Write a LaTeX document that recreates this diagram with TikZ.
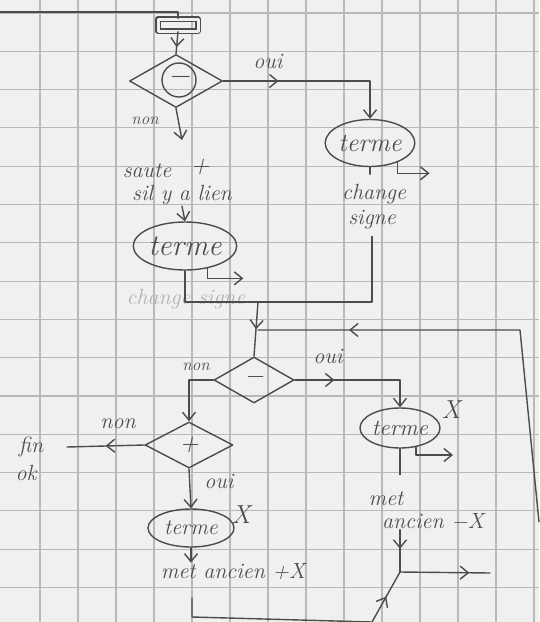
\documentclass[tikz,border=0pt]{standalone}
\usepackage{fontspec}
\usetikzlibrary{shapes.geometric,arrows.meta,decorations.markings}
\definecolor{papier}{gray}{0.94}
\definecolor{quadrillage}{gray}{0.72}
\definecolor{crayon}{gray}{0.30}
\definecolor{gomme}{gray}{0.70}

\begin{document}
\begin{tikzpicture}[x=1pt,y=-1pt,
  pen/.style={draw=crayon,line width=1.4pt,line cap=round,line join=round},
  fl/.style={-{Straight Barb[length=8pt,width=13pt]}},
  milieu/.style={postaction={decorate},decoration={markings,mark=at position #1 with {\arrow{Straight Barb[length=8pt,width=13pt]}}}},
  taille/.style={font=\fontsize{#1}{#1}\selectfont\itshape},
  ecrit/.style={text=crayon,inner sep=1pt,taille=22},
  rond/.style n args={2}{pen,ellipse,inner sep=0pt,text=crayon,minimum width=#1,minimum height=#2},
  losange/.style n args={2}{pen,diamond,inner sep=0pt,text=crayon,minimum width=#1,minimum height=#2}]
\fill[papier] (0,0) rectangle (539,622);
\useasboundingbox (0,0) rectangle (539,622);
% quadrillage
\foreach \k in {0,...,15}
  \draw[quadrillage,line width=1.1pt] (0,{13+38.3*\k}) -- (539,{13+38.3*\k});
\foreach \k in {1,...,14}
  \draw[quadrillage,line width=1.1pt] ({2+38*\k},0) -- ({2+38*\k},622);

% haut
\node[pen,double=papier,double distance=3pt,minimum width=40pt,minimum height=12pt,inner sep=0pt] (depart) at (178,25) {};
\node[losange={93pt}{53pt}] (test1) at (176,81) {};
\node[pen,circle,minimum size=34pt,inner sep=0pt,text=crayon,taille=30] (moins1) at (179,80) {−};
\node[ecrit] (oui1) at (268,61) {oui};
\node[ecrit,taille=17] (non1) at (145,121) {non};
\node[ecrit] (saute) at (147,171) {saute};
\node[ecrit,taille=26] (plus1) at (200,167) {+};
\node[ecrit] (lien) at (182,195) {sil y a lien};
\node[rond={96pt}{48pt},taille=30] (terme1) at (185,246) {terme};
\node[ecrit,text=gomme] (efface) at (186,299) {change signe};
\node[rond={80pt}{47pt},taille=26] (terme2) at (370,143) {terme};
\node[ecrit] (change) at (374,194) {change};
\node[ecrit] (signe) at (372,220) {signe};

% milieu
\node[losange={80pt}{46pt},taille=26] (test2) at (254,380) {−};
\node[ecrit,taille=17] (non2) at (196,367) {non};
\node[ecrit] (oui2) at (328,356) {oui};
\node[losange={88pt}{46pt},taille=26] (test3) at (189,445) {+};
\node[ecrit] (non3) at (118,424) {non};
\node[ecrit] (motfin) at (31,447) {fin};
\node[ecrit] (ok) at (26,473) {ok};
\node[ecrit] (oui3) at (219,481) {oui};
\node[rond={80pt}{40pt},taille=23] (terme3) at (400,428) {terme};
\node[ecrit,taille=26] (x3) at (451,410) {X};

% bas
\node[rond={86pt}{38pt},taille=22] (terme4) at (191,528) {terme};
\node[ecrit,taille=26] (x4) at (241,515) {X};
\node[ecrit] (metg) at (233,572) {met ancien +X};
\node[ecrit] (met) at (386,499) {met};
\node[ecrit] (ancien) at (433,521) {ancien −X};

\coordinate (hautg) at (0,12);
\coordinate (nonbas) at (182,140);
\coordinate (jonction) at (258,302);
\coordinate (retour) at (539,522);
\coordinate (coin) at (520,330);
\coordinate (finfl) at (67,447);
\coordinate (depg) at (192,598);
\coordinate (coinbas) at (192,617);
\coordinate (coinbas2) at (372,622);
\coordinate (jonc2) at (400,572);
\coordinate (sortie) at (490,573);

\draw[pen] (hautg) -| (depart.north);
\draw[pen,milieu=0.7] (depart.south) -- (test1.north);
\draw[pen,fl,milieu=0.3] (test1.east) -| (terme2.north);
\draw[pen,fl] (test1.south) -- (nonbas);
\draw[pen,fl] (lien.south) -- (terme1.north);
\draw[pen,fl] (terme1.-45) |- ++(36,10);
\draw[pen,fl] (terme2.-35) |- ++(32,11);
\draw[pen] (terme2.south) -- ++(0,7);
\draw[pen] (terme1.south) |- (jonction);
\draw[pen] (signe.south) ++(0,6) |- (jonction);
\draw[pen,milieu=0.5] (jonction) -- (test2.north);
\draw[pen,milieu=0.8] (retour) -- (coin) -- (jonction |- coin);
\draw[pen,fl] (test2.west) -| (test3.north);
\draw[pen,fl,milieu=0.3] (test2.east) -| (terme3.north);
\draw[pen,milieu=0.5] (test3.west) -- (finfl);
\draw[pen,fl] (test3.south) -- (terme4.north);
\draw[pen,fl] (terme4.south) -- (terme4.south |- metg.north);
\draw[pen,milieu=0.89] (depg) -- (coinbas) -- (coinbas2) -- (jonc2);
\draw[pen,fl] (terme3.-50) |- ++(37,8);
\draw[pen] (terme3.south) -- ++(0,26);
\draw[pen,milieu=0.45] (ancien.south -| jonc2) -- (jonc2);
\draw[pen,milieu=0.77] (jonc2) -- (sortie);
\end{tikzpicture}
\end{document}
